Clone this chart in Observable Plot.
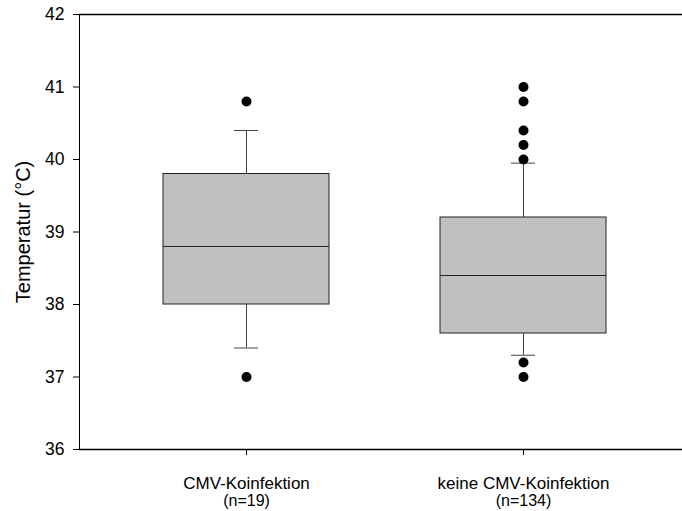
<!DOCTYPE html>
<html>
<head>
<meta charset="utf-8">
<script src="https://cdn.jsdelivr.net/npm/d3@7"></script>
<script src="https://cdn.jsdelivr.net/npm/@observablehq/plot@0.6"></script>
<style>
  body { margin: 0; background: #fff; }
  #chart { width: 682px; height: 511px; }
</style>
</head>
<body>
<div id="chart"></div>
<script>
const categories = ["CMV-Koinfektion", "keine CMV-Koinfektion"];
const sampleLabels = ["(n=19)", "(n=134)"];
const q1 = [38.0, 37.6];
const median = [38.8, 38.4];
const q3 = [39.8, 39.2];
const whiskerLow = [37.4, 37.3];
const whiskerHigh = [40.4, 39.95];
const outliers1 = [37.0, 40.8];
const outliers2 = [41.0, 40.8, 40.4, 40.2, 40.0, 37.2, 37.0];
const yTicks = [36, 37, 38, 39, 40, 41, 42];

const boxes = categories.map((c, i) => ({
  cat: c, q1: q1[i], med: median[i], q3: q3[i], lo: whiskerLow[i], hi: whiskerHigh[i]
}));
const outs = [
  ...outliers1.map(v => ({cat: categories[0], v})),
  ...outliers2.map(v => ({cat: categories[1], v}))
];

const font = "'Liberation Sans', Arial, sans-serif";

const chart = Plot.plot({
  width: 682,
  height: 511,
  marginLeft: 79,
  marginRight: 0,
  marginTop: 14,
  marginBottom: 62,
  style: {fontFamily: font, color: "black", background: "white"},
  x: {type: "band", domain: categories, range: [79, 690.5], paddingInner: 0.4, paddingOuter: 0.3},
  y: {domain: [36, 42]},
  marks: [
    Plot.frame({anchor: "left", stroke: "black"}),
    Plot.frame({anchor: "top", stroke: "black", strokeWidth: 1.3}),
    Plot.frame({anchor: "bottom", stroke: "black", strokeWidth: 1.3}),
    Plot.ruleX(boxes, {x: "cat", y1: "q3", y2: "hi", stroke: "#444"}),
    Plot.ruleX(boxes, {x: "cat", y1: "lo", y2: "q1", stroke: "#444"}),
    Plot.tickY(boxes, {x: "cat", y: "hi", stroke: "#444", insetLeft: 71, insetRight: 71}),
    Plot.tickY(boxes, {x: "cat", y: "lo", stroke: "#444", insetLeft: 71, insetRight: 71}),
    Plot.barY(boxes, {x: "cat", y1: "q1", y2: "q3", fill: "#c0c0c0", stroke: "#222", strokeWidth: 1}),
    Plot.tickY(boxes, {x: "cat", y: "med", stroke: "#222", strokeWidth: 1}),
    Plot.dot(outs, {x: "cat", y: "v", r: 5, fill: "black", stroke: "none"}),
    Plot.axisY({ticks: yTicks, tickFormat: d3.format("d"), tickSize: 6, tickPadding: 9, fontSize: 17.5, label: null, stroke: "black"}),
    Plot.axisY({ticks: [], tickSize: 0, label: "Temperatur (°C)", labelAnchor: "center", labelArrow: "none", labelOffset: 64, fontSize: 20}),
    Plot.axisX({tickSize: 6, tickPadding: 21, fontSize: 17, label: null, stroke: "black"}),
    Plot.axisX({tickSize: 0, tickPadding: 45.6, fontSize: 16, label: null,
      tickFormat: d => sampleLabels[categories.indexOf(d)]})
  ]
});
document.getElementById("chart").appendChild(chart);
</script>
</body>
</html>
